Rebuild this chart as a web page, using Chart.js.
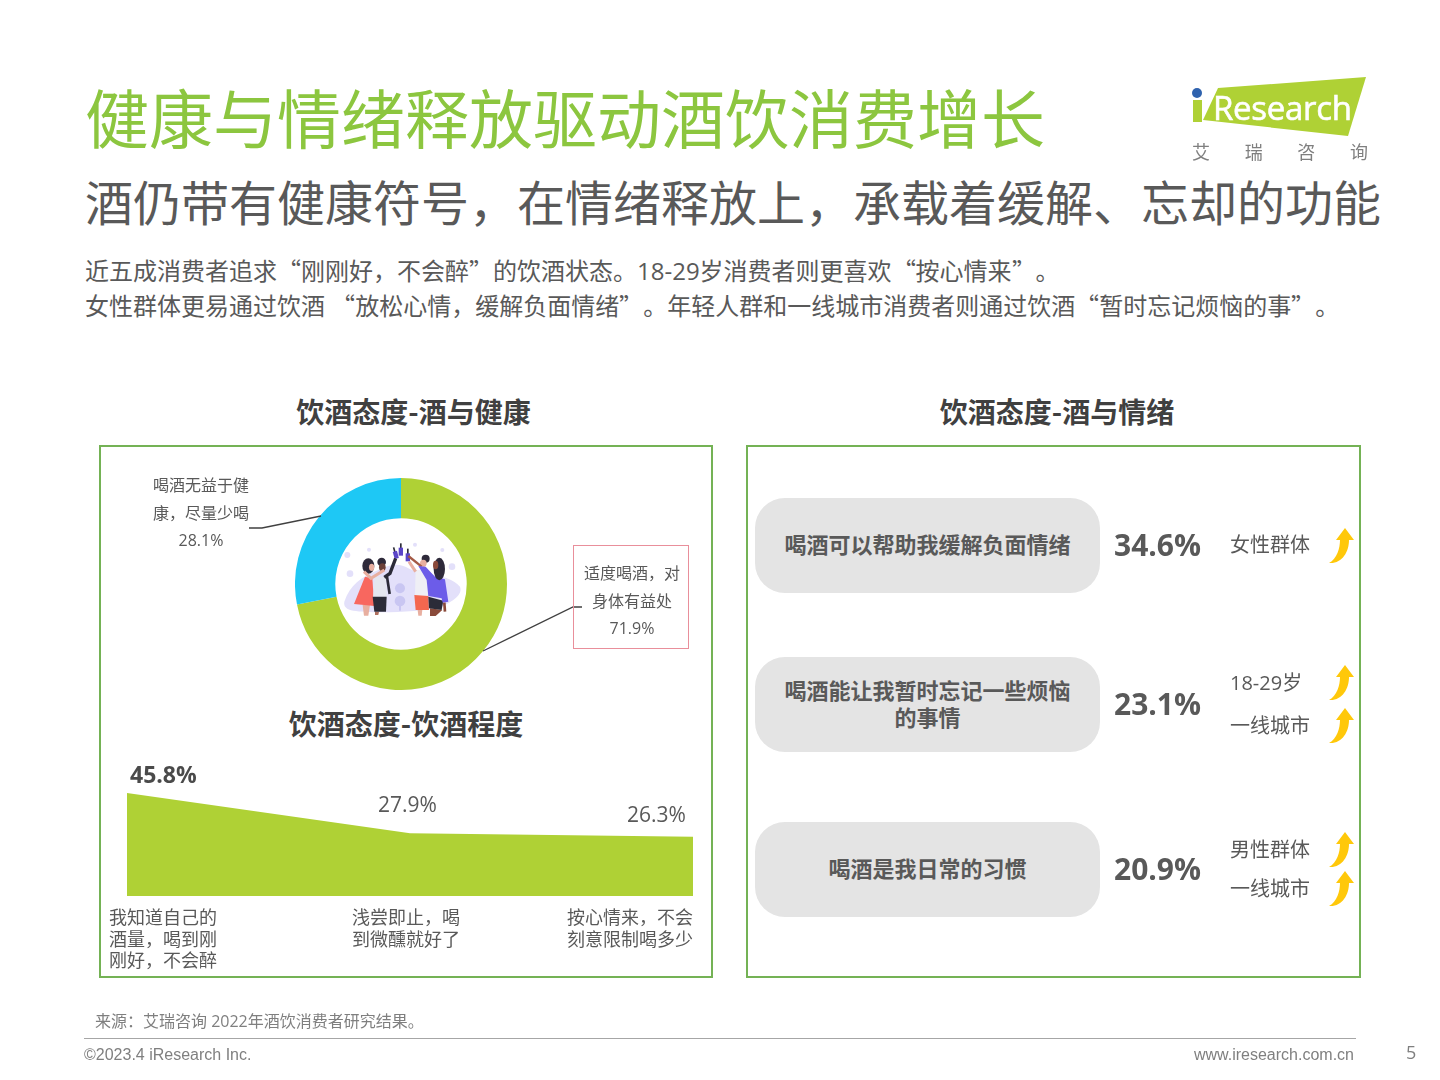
<!DOCTYPE html>
<html lang="zh-CN">
<head>
<meta charset="utf-8">
<title>健康与情绪释放驱动酒饮消费增长</title>
<script src="https://cdn.jsdelivr.net/npm/chart.js@4"></script>
<style>
  @font-face { font-family: "CjkQuote"; src: local("Noto Sans CJK SC"), local("Noto Sans CJK SC Regular"), local("NotoSansCJKsc-Regular"); unicode-range: U+2018, U+2019, U+201C, U+201D; }
  html, body { margin: 0; padding: 0; background: #fff; }
  body { width: 1440px; height: 1080px; position: relative; overflow: hidden; text-spacing-trim: space-all;
         font-family: "CjkQuote", "Open Sans", "Noto Sans CJK SC", sans-serif; color: #595959; }
  .t { position: absolute; white-space: nowrap; font-family: "CjkQuote", "Open Sans", "Noto Sans CJK SC", sans-serif; }
  .c { text-align: center; }
  .box { position: absolute; border: 2px solid #74B255; box-sizing: border-box; }
  .pill { position: absolute; left: 755px; width: 345px; height: 95px; border-radius: 30px; background: #E4E4E4;
          display: flex; flex-direction: column; align-items: center; justify-content: center; text-align: center; box-sizing: border-box;
          font: bold 22px/27px "Liberation Sans", "Noto Sans CJK SC", sans-serif; color: #595959; }
  canvas { position: absolute; }
  svg { position: absolute; left: 0; top: 0; }
</style>
</head>
<body>
<div class="t" style="left:85px;top:69px;font:400 64px/92px 'Noto Sans CJK SC',sans-serif;color:#8CC63F">健康与情绪释放驱动酒饮消费增长</div>
<div class="t" style="left:85px;top:165px;font:400 48px/70px 'Noto Sans CJK SC',sans-serif;color:#595959">酒仍带有健康符号，在情绪释放上，承载着缓解、忘却的功能</div>
<div class="t" style="left:85px;top:253px;font-size:24px;line-height:35px;color:#595959">近五成消费者追求“刚刚好，不会醉”的饮酒状态。18-29岁消费者则更喜欢“按心情来”。<br>女性群体更易通过饮酒 “放松心情，缓解负面情绪”。年轻人群和一线城市消费者则通过饮酒“暂时忘记烦恼的事”。</div>

<div class="t c" style="left:100px;width:627px;top:391px;font:bold 28px/40px 'Noto Sans CJK SC',sans-serif;color:#404040">饮酒态度-酒与健康</div>
<div class="t c" style="left:747px;width:620px;top:391px;font:bold 28px/40px 'Noto Sans CJK SC',sans-serif;color:#404040">饮酒态度-酒与情绪</div>
<div class="box" style="left:99px;top:445px;width:614px;height:533px"></div>
<div class="box" style="left:746px;top:445px;width:615px;height:533px"></div>
<div class="t c" style="left:100px;width:612px;top:703px;font:bold 28px/40px 'Noto Sans CJK SC',sans-serif;color:#404040">饮酒态度-饮酒程度</div>

<canvas id="donutChart" width="212" height="212" style="left:295px;top:478px;width:212px;height:212px"></canvas>
<canvas id="areaChart" width="566" height="113" style="left:127px;top:783px;width:566px;height:113px"></canvas>

<svg width="1440" height="1080" viewBox="0 0 1440 1080">
  <!-- logo -->
  <polygon points="1218,88 1366,77 1348,136 1203,120" fill="#AFD135"/>
  <rect x="1193" y="100" width="9" height="22" fill="#AFD135"/>
  <circle cx="1197" cy="93" r="5" fill="#2F62AE"/>
  <text x="1213" y="120" font-family="Open Sans" font-size="33" fill="#fff" stroke="#fff" stroke-width="0.6" textLength="139">Research</text>
  <!-- leader lines -->
  <polyline points="249,528 262,528 321,516" fill="none" stroke="#404040" stroke-width="1.3"/>
  <polyline points="483,651 573,607 582,607" fill="none" stroke="#404040" stroke-width="1.3"/>
  <rect x="573.5" y="545.5" width="115" height="103" fill="none" stroke="#E98F9B" stroke-width="1"/>
  <!-- people in the donut -->
  <g transform="translate(285,470) scale(0.3333)">
    <path d="M178,395 C195,345 230,320 280,300 C320,280 345,280 370,295 C410,315 490,310 525,350 C535,375 500,395 470,410 C400,428 260,430 205,422 C185,418 175,410 178,395 Z" fill="#E3E0FA"/>
    <g fill="#E3E0FA">
      <circle cx="187" cy="255" r="9"/><circle cx="195" cy="311" r="10"/><circle cx="252" cy="239" r="6"/>
      <circle cx="390" cy="224" r="6"/><circle cx="472" cy="240" r="6"/><circle cx="501" cy="290" r="10"/>
    </g>
    <g fill="#C9C6F2"><circle cx="345" cy="355" r="15"/><circle cx="345" cy="393" r="16"/><rect x="342" y="395" width="6" height="27"/></g>
    <!-- bottles -->
    <g fill="#2B2B38"><rect x="326" y="232" width="5" height="20" transform="rotate(-15 328 242)"/><rect x="345" y="220" width="5" height="20"/><rect x="366" y="236" width="5" height="20"/></g>
    <g fill="#5A45C8"><rect x="326" y="244" width="13" height="22" transform="rotate(-15 332 255)"/><rect x="341" y="233" width="13" height="24"/><rect x="362" y="250" width="13" height="24"/></g>
    <!-- left woman -->
    <polygon points="233,405 255,405 250,437 237,437" fill="#E8AFA0"/>
    <polygon points="240,320 262,325 268,408 207,402" fill="#F8675F"/>
    <ellipse cx="250" cy="288" rx="18" ry="23" fill="#2E2A3A"/>
    <ellipse cx="260" cy="292" rx="8" ry="11" fill="#E8AFA0"/>
    <!-- second figure -->
    <polygon points="270,425 282,425 280,435 270,435" fill="#B0705F"/>
    <polygon points="270,320 303,320 305,382 264,382" fill="#E4E6EF"/>
    <polygon points="263,380 305,380 303,425 268,425" fill="#2B2B38"/>
    <ellipse cx="290" cy="276" rx="13" ry="13" fill="#2E2A3A"/>
    <ellipse cx="292" cy="292" rx="10" ry="12" fill="#6B4038"/>
    <polyline points="298,322 315,310 332,265" fill="none" stroke="#2B2B38" stroke-width="10"/>
    <polyline points="306,320 314,372" fill="none" stroke="#2B2B38" stroke-width="8"/>
    <polyline points="237,305 258,325 298,300" fill="none" stroke="#E8AFA0" stroke-width="9"/>
    <!-- third figure -->
    <polygon points="398,420 412,420 410,437 400,437" fill="#E8AFA0"/>
    <polygon points="392,300 428,300 428,378 390,378" fill="#EFEFF5"/>
    <polygon points="388,375 430,378 432,420 392,420" fill="#F4674F"/>
    <circle cx="422" cy="266" r="12" fill="#2E2A3A"/>
    <ellipse cx="415" cy="280" rx="10" ry="11" fill="#E8AFA0"/>
    <polyline points="372,275 392,305" fill="none" stroke="#E8AFA0" stroke-width="9"/>
    <polyline points="370,258 410,290" fill="none" stroke="#A45A45" stroke-width="7"/>
    <!-- right woman -->
    <polygon points="435,415 472,420 452,438 435,438" fill="#8A4A3A"/>
    <polygon points="430,380 475,392 470,420 432,415" fill="#2B2B38"/>
    <polygon points="400,288 422,290 450,320 480,328 490,395 473,398 470,385 430,378 425,330" fill="#6C5CE9"/>
    <ellipse cx="463" cy="297" rx="17" ry="34" fill="#2E2A3A"/>
    <ellipse cx="452" cy="285" rx="8" ry="13" fill="#8A4A3A"/>
    <polyline points="478,398 480,425" fill="none" stroke="#8A4A3A" stroke-width="8"/>
  </g>
  <!-- arrows -->
  <defs>
    <path id="up" d="M1,35 C9,31 12,20 12,12 L8,12 L17,0 L26,12 L21,12 C21,24 14,36 1,35 Z" fill="#FFC80A"/>
  </defs>
  <use href="#up" x="1328" y="528"/>
  <use href="#up" x="1328" y="665"/>
  <use href="#up" x="1328" y="708"/>
  <use href="#up" x="1328" y="832"/>
  <use href="#up" x="1328" y="871"/>
</svg>

<div class="t" style="left:1192px;top:140px;font-size:18px;line-height:24px;color:#7F7F7F;display:flex;justify-content:space-between;width:176px"><span>艾</span><span>瑞</span><span>咨</span><span>询</span></div>

<div id="textLayer"></div>

<div class="t" style="left:95px;top:1009px;font-size:16px;line-height:24px;color:#7F7F7F">来源：艾瑞咨询 2022年酒饮消费者研究结果。</div>
<div style="position:absolute;left:84px;top:1038px;width:1272px;height:1px;background:#A6A6A6"></div>
<div class="t" style="left:84px;top:1045px;font:16px/20px 'Liberation Sans',sans-serif;color:#7F7F7F">©2023.4 iResearch Inc.</div>
<div class="t" style="right:86px;top:1045px;font:16px/20px 'Liberation Sans',sans-serif;color:#7F7F7F">www.iresearch.com.cn</div>
<div class="t" style="left:1406px;top:1040px;font:18px/24px 'Open Sans',sans-serif;color:#7F7F7F">5</div>

<script>
const healthLabels = ['适度喝酒，对\n身体有益处', '喝酒无益于健\n康，尽量少喝'];
const healthValues = [71.9, 28.1];
const healthColors = ['#AFD135', '#1EC8F5'];

const levelLabels = ['我知道自己的\n酒量，喝到刚\n刚好，不会醉', '浅尝即止，喝\n到微醺就好了', '按心情来，不会\n刻意限制喝多少'];
const levelValues = [45.8, 27.9, 26.3];

const moodLabels = ['喝酒可以帮助我缓解负面情绪', '喝酒能让我暂时忘记一些烦恼\n的事情', '喝酒是我日常的习惯'];
const moodValues = [34.6, 23.1, 20.9];
const moodGroups = [['女性群体'], ['18-29岁', '一线城市'], ['男性群体', '一线城市']];

const layer = document.getElementById('textLayer');
function addText(text, css, cls) {
  const el = document.createElement('div');
  el.className = cls || 't';
  el.style.cssText = css;
  el.innerHTML = text.split('\n').map(line => '<div>' + line + '</div>').join('');
  layer.appendChild(el);
}

// donut labels
addText(healthLabels[0] + '\n' + healthValues[0] + '%', 'left:573px;width:118px;top:560px;font-size:16px;line-height:27.5px;color:#595959', 't c');
addText(healthLabels[1] + '\n' + healthValues[1] + '%', 'left:141px;width:120px;top:472px;font-size:16px;line-height:27.5px;color:#595959', 't c');

// area chart labels
addText(levelValues[0] + '%', 'left:130px;top:758px;font-size:23px;line-height:32px;font-weight:700;color:#4A4A4A');
addText(levelValues[1] + '%', 'left:378px;top:788px;font-size:21px;line-height:32px;color:#595959');
addText(levelValues[2] + '%', 'left:627px;top:798px;font-size:21px;line-height:32px;color:#595959');
addText(levelLabels[0], 'left:109px;top:907px;font-size:18px;line-height:21.5px;color:#595959');
addText(levelLabels[1], 'left:352px;top:907px;font-size:18px;line-height:21.5px;color:#595959');
addText(levelLabels[2], 'left:567px;top:907px;font-size:18px;line-height:21.5px;color:#595959');

// right panel
const pillTops = [498, 657, 822];
const groupTops = [[545], [683, 726], [850, 889]];
moodLabels.forEach((label, i) => {
  addText(label, 'top:' + pillTops[i] + 'px', 'pill');
  addText(moodValues[i] + '%', 'left:1114px;top:' + (pillTops[i] + 25) + 'px;font-size:30px;line-height:44px;font-weight:700;color:#595959');
  moodGroups[i].forEach((g, j) => {
    addText(g, 'left:1230px;top:' + (groupTops[i][j] - 16) + 'px;font-size:20px;line-height:32px;color:#595959');
  });
});

new Chart(document.getElementById('donutChart').getContext('2d'), {
  type: 'doughnut',
  data: {
    labels: healthLabels,
    datasets: [{ data: healthValues, backgroundColor: healthColors, borderWidth: 0 }]
  },
  options: {
    responsive: false,
    animation: false,
    cutout: '62%',
    plugins: { legend: { display: false }, tooltip: { enabled: false } }
  }
});

new Chart(document.getElementById('areaChart').getContext('2d'), {
  type: 'line',
  data: {
    labels: levelLabels,
    datasets: [{
      data: levelValues,
      backgroundColor: '#AFD135',
      borderWidth: 0,
      pointRadius: 0,
      fill: 'origin',
      tension: 0
    }]
  },
  options: {
    responsive: false,
    animation: false,
    layout: { padding: 0 },
    scales: {
      x: { display: false },
      y: { display: false, min: 0, max: 50.25 }
    },
    plugins: { legend: { display: false }, tooltip: { enabled: false } }
  }
});
</script>
</body>
</html>
